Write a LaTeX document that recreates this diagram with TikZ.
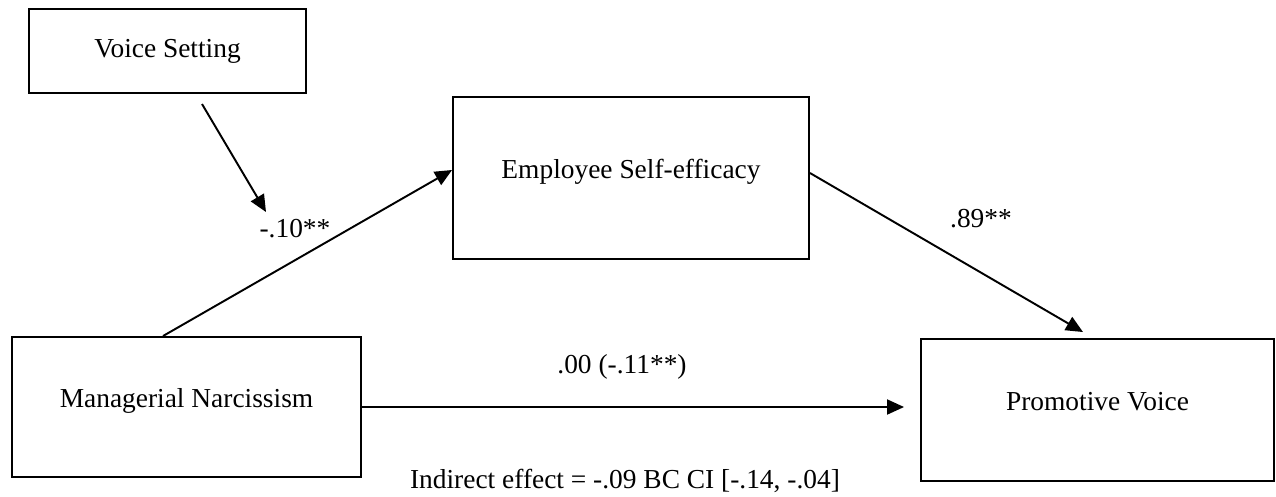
\documentclass[tikz,border=0pt]{standalone}
\usepackage{fontspec}
\setmainfont{Liberation Serif}
\usetikzlibrary{arrows.meta}

\begin{document}
\begin{tikzpicture}[font=\fontsize{15.6}{18}\selectfont]
				\tikzstyle{varbox}=[draw,line width=1.1pt,inner sep=0pt,text height=0.3cm,text depth=0.3cm]
				\tikzstyle{effect}=[line width=1.1pt,-{Triangle[length=0.34cm,width=0.3cm]}]
				\tikzstyle{coef}=[anchor=base,inner sep=0pt]
				\useasboundingbox (0,0) rectangle (25.52,-9.92);
				% variables
				\node[varbox,minimum width=5.54cm,minimum height=1.68cm,text height=,text depth=] (setting) at (3.35,-1.02) {Voice Setting};
				\node[varbox,minimum width=7.12cm,minimum height=3.24cm] (efficacy) at (12.62,-3.56) {Employee Self-efficacy};
				\node[varbox,minimum width=6.98cm,minimum height=2.80cm] (narc) at (3.73,-8.14) {Managerial Narcissism};
				\node[varbox,minimum width=7.06cm,minimum height=2.84cm] (voice) at (21.95,-8.20) {Promotive Voice};
				% moderator arrow
				\coordinate (modtail) at (4.04,-2.08);
				\coordinate (modhead) at (5.32,-4.24);
				\draw[effect] (modtail) -- (modhead);
				% paths
				\draw[effect] ([xshift=-0.47cm]narc.north) -- ([yshift=0.16cm]efficacy.west);
				\draw[effect] ([yshift=0.1cm]efficacy.east) -- ([xshift=-0.29cm,yshift=0.12cm]voice.north);
				\draw[effect] (narc.east) -- ([xshift=-0.32cm,yshift=0.06cm]voice.west);
				% coefficients
				\node[coef] (a) at (5.9,-4.74) {-.10**};
				\node[coef] (b) at (19.62,-4.54) {.89**};
				\node[coef] (c) at (12.44,-7.46) {.00 (-.11**)};
				\node[coef] (ind) at (12.5,-9.76) {Indirect effect = -.09 BC CI [-.14, -.04]};
\end{tikzpicture}
\end{document}
